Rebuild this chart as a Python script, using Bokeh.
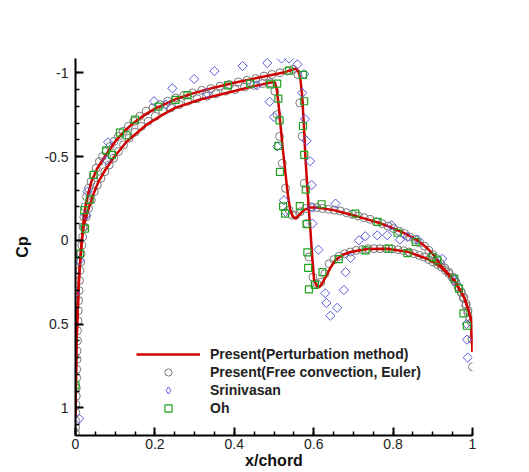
import numpy as np
from bokeh.plotting import figure
from bokeh.models import Range1d, FixedTicker, Legend, LegendItem
from bokeh.embed import file_html
from bokeh.resources import INLINE

# ---------------- data ----------------
x_ticks = [0, 0.2, 0.4, 0.6, 0.8, 1]
x_tick_labels = ["0", "0.2", "0.4", "0.6", "0.8", "1"]
y_ticks = [-1, -0.5, 0, 0.5, 1]
y_tick_labels = ["-1", "-0.5", "0", "0.5", "1"]

# Present (Perturbation method) - red line, surface A (strong shock)
pert_a_x = [0.0, 0.001, 0.002, 0.003, 0.005, 0.007, 0.009, 0.012, 0.015, 0.018,
            0.021, 0.025, 0.031, 0.040, 0.055, 0.074, 0.100, 0.125, 0.146, 0.175,
            0.204, 0.255, 0.300, 0.339, 0.400, 0.450, 0.500, 0.530, 0.548, 0.556,
            0.563, 0.567, 0.571, 0.575, 0.579, 0.583, 0.587, 0.592, 0.596, 0.601,
            0.607, 0.614, 0.622, 0.630, 0.643, 0.656, 0.675, 0.693, 0.735, 0.785,
            0.836, 0.886, 0.920, 0.954, 0.979, 0.987, 0.996, 1.0]
pert_a_cp = [1.06, 0.85, 0.70, 0.58, 0.45, 0.33, 0.22, 0.12, 0.03, -0.05,
             -0.13, -0.20, -0.27, -0.35, -0.43, -0.50, -0.59, -0.655, -0.70, -0.75,
             -0.79, -0.845, -0.88, -0.905, -0.94, -0.965, -0.99, -1.005, -1.02, -1.025,
             -1.00, -0.95, -0.86, -0.70, -0.50, -0.35, -0.21, -0.05, 0.09, 0.239,
             0.27, 0.281, 0.255, 0.219, 0.16, 0.115, 0.085, 0.07, 0.052, 0.05,
             0.068, 0.11, 0.158, 0.24, 0.34, 0.398, 0.467, 0.667]

# Present (Perturbation method) - red line, surface B (weak shock)
pert_b_x = [0.0, 0.001, 0.002, 0.003, 0.005, 0.007, 0.009, 0.012, 0.015, 0.018,
            0.022, 0.029, 0.036, 0.046, 0.057, 0.075, 0.095, 0.129, 0.179, 0.220,
            0.251, 0.314, 0.398, 0.450, 0.490, 0.502, 0.507, 0.512, 0.516, 0.522,
            0.529, 0.535, 0.541, 0.548, 0.555, 0.563, 0.575, 0.590, 0.610, 0.650,
            0.690, 0.735, 0.770, 0.802, 0.835, 0.861, 0.885, 0.903, 0.920, 0.954,
            0.979, 0.987, 0.996, 1.0]
pert_b_cp = [1.06, 0.85, 0.70, 0.58, 0.45, 0.33, 0.22, 0.12, 0.03, -0.05,
             -0.10, -0.16, -0.21, -0.28, -0.345, -0.42, -0.49, -0.59, -0.69, -0.75,
             -0.79, -0.84, -0.89, -0.92, -0.94, -0.945, -0.90, -0.80, -0.697, -0.55,
             -0.398, -0.27, -0.18, -0.14, -0.13, -0.15, -0.18, -0.195, -0.195, -0.18,
             -0.155, -0.125, -0.10, -0.07, -0.035, 0.0, 0.045, 0.09, 0.15, 0.24,
             0.34, 0.398, 0.467, 0.667]

# Present (Free convection, Euler) - grey circles
euler_le_x = [0.000, 0.000, 0.001, 0.001, 0.001, 0.002, 0.002, 0.003, 0.003, 0.004,
              0.004, 0.005, 0.005, 0.006, 0.007, 0.008, 0.009, 0.010, 0.011, 0.013,
              0.014, 0.016, 0.018]
euler_le_cp = [1.15, 1.12, 1.08, 1.03, 0.98, 0.93, 0.88, 0.82, 0.77, 0.71,
               0.66, 0.60, 0.54, 0.48, 0.42, 0.36, 0.30, 0.24, 0.18, 0.13,
               0.08, 0.03, -0.02]
euler_a_x = [0.019, 0.021, 0.024, 0.028, 0.033, 0.039, 0.045, 0.052, 0.060, 0.068,
             0.077, 0.087, 0.097, 0.108, 0.120, 0.133, 0.147, 0.162, 0.178, 0.195,
             0.213, 0.232, 0.252, 0.273, 0.295, 0.318, 0.341, 0.364, 0.387, 0.410,
             0.432, 0.454, 0.475, 0.495, 0.515, 0.533, 0.548, 0.560, 0.565, 0.571,
             0.576, 0.583, 0.588, 0.598, 0.608, 0.618, 0.628, 0.639, 0.651, 0.664,
             0.678, 0.692, 0.707, 0.722, 0.737, 0.752, 0.767, 0.782, 0.797, 0.812,
             0.826, 0.840, 0.853, 0.866, 0.878, 0.890, 0.901, 0.912, 0.922, 0.932,
             0.941, 0.950, 0.958, 0.965, 0.972, 0.978, 0.984, 0.989, 0.993, 0.998,
             0.999, 1.000]
euler_a_cp = [-0.08, -0.14, -0.20, -0.26, -0.31, -0.35, -0.39, -0.43, -0.47, -0.50,
              -0.53, -0.56, -0.59, -0.62, -0.65, -0.68, -0.71, -0.74, -0.77, -0.79,
              -0.81, -0.83, -0.85, -0.865, -0.88, -0.895, -0.905, -0.92, -0.93, -0.945,
              -0.955, -0.965, -0.98, -0.99, -1.00, -1.01, -1.02, -0.99, -0.82, -0.62,
              -0.34, -0.10, 0.10, 0.22, 0.26, 0.25, 0.20, 0.14, 0.115, 0.095,
              0.08, 0.07, 0.06, 0.055, 0.05, 0.05, 0.05, 0.05, 0.052, 0.056,
              0.062, 0.07, 0.08, 0.09, 0.10, 0.115, 0.13, 0.145, 0.16, 0.18,
              0.20, 0.22, 0.25, 0.28, 0.31, 0.34, 0.38, 0.42, 0.47, 0.49,
              0.59, 0.755]
euler_b_x = [0.022, 0.027, 0.033, 0.040, 0.047, 0.055, 0.064, 0.074, 0.085, 0.096,
             0.108, 0.121, 0.135, 0.150, 0.166, 0.183, 0.201, 0.220, 0.240, 0.261,
             0.283, 0.306, 0.330, 0.354, 0.378, 0.402, 0.426, 0.449, 0.471, 0.490,
             0.502, 0.508, 0.514, 0.521, 0.529, 0.538, 0.546, 0.554, 0.566, 0.580,
             0.594, 0.608, 0.622, 0.637, 0.652, 0.667, 0.682, 0.697, 0.712, 0.727,
             0.742, 0.757, 0.772, 0.787, 0.801, 0.815, 0.829, 0.842, 0.855, 0.867,
             0.879, 0.890, 0.900, 0.910, 0.920, 0.930, 0.940, 0.949, 0.957, 0.964,
             0.971, 0.977, 0.983, 0.988]
euler_b_cp = [-0.08, -0.14, -0.19, -0.24, -0.29, -0.33, -0.37, -0.41, -0.45, -0.49,
              -0.53, -0.57, -0.61, -0.645, -0.68, -0.71, -0.74, -0.77, -0.79, -0.81,
              -0.83, -0.845, -0.86, -0.875, -0.89, -0.90, -0.915, -0.925, -0.935, -0.94,
              -0.89, -0.75, -0.62, -0.46, -0.31, -0.18, -0.15, -0.15, -0.17, -0.19,
              -0.20, -0.195, -0.19, -0.185, -0.18, -0.175, -0.165, -0.155, -0.145, -0.135,
              -0.125, -0.11, -0.10, -0.085, -0.07, -0.055, -0.04, -0.02, -0.005, 0.015,
              0.035, 0.06, 0.085, 0.11, 0.14, 0.165, 0.19, 0.22, 0.25, 0.28,
              0.31, 0.345, 0.39, 0.43]

# Srinivasan - blue diamonds
srini_x = [0.000, 0.009, 0.010, 0.027, 0.030, 0.078, 0.082, 0.198, 0.228, 0.244,
           0.299, 0.331, 0.350, 0.421, 0.457, 0.483, 0.489, 0.500, 0.508, 0.519,
           0.538, 0.559, 0.576, 0.571, 0.578, 0.582, 0.591, 0.595, 0.597, 0.525,
           0.529, 0.597, 0.612, 0.629, 0.632, 0.642, 0.659, 0.676, 0.680, 0.693,
           0.655, 0.714, 0.730, 0.760, 0.785, 0.796, 0.817, 0.836, 0.861, 0.924,
           0.954, 0.985, 0.986, 0.988]
srini_cp = [0.315, 1.065, 0.12, -0.15, -0.29, -0.478, -0.585, -0.83, -0.81, -0.907,
            -0.963, -0.878, -1.01, -1.04, -0.925, -1.058, -0.827, -0.736, -0.56, -1.085,
            -1.085, -1.05, -0.992, -0.88, -0.724, -0.594, -0.472, -0.33, -0.195, -0.239,
            -0.169, -0.10, 0.056, 0.316, 0.374, 0.45, 0.403, 0.297, 0.19, 0.105,
            -0.219, 0.0, -0.024, -0.03, -0.03, -0.09, -0.004, -0.02, -0.005, 0.11,
            0.239, 0.50, 0.593, 0.70]

# Oh - green squares
oh_x = [0.000, 0.011, 0.024, 0.022, 0.036, 0.046, 0.077, 0.092, 0.112, 0.129,
        0.150, 0.209, 0.252, 0.282, 0.384, 0.440, 0.491, 0.508, 0.511, 0.514,
        0.511, 0.515, 0.523, 0.528, 0.538, 0.573, 0.576, 0.573, 0.576, 0.580,
        0.582, 0.584, 0.586, 0.588, 0.603, 0.622, 0.565, 0.620, 0.663, 0.731,
        0.789, 0.836, 0.705, 0.761, 0.811, 0.857, 0.899, 0.912, 0.954, 0.966,
        0.977, 0.986]
oh_cp = [0.866, 0.08, -0.07, -0.18, -0.243, -0.39, -0.537, -0.51, -0.643, -0.627,
         -0.72, -0.798, -0.838, -0.866, -0.925, -0.935, -0.93, -0.935, -0.846, -0.716,
         -0.563, -0.408, -0.203, -0.159, -1.013, -0.987, -0.83, -0.682, -0.51, -0.303,
         -0.096, 0.072, 0.165, 0.293, 0.266, 0.19, -0.204, -0.215, 0.112, 0.06,
         0.05, 0.076, -0.159, -0.11, -0.045, 0.01, 0.10, 0.12, 0.229, 0.288,
         0.436, 0.51]

labels = ["Present(Perturbation method)", "Present(Free convection, Euler)",
          "Srinivasan", "Oh"]

# ---------------- figure ----------------
FONT = "Liberation Sans"
BLUE = "#5a5ae0"
p = figure(width=529, height=472, output_backend="svg", toolbar_location=None,
           x_range=Range1d(0, 1), y_range=Range1d(1.165, -1.085),
           min_border_left=75, min_border_right=57, min_border_top=58,
           min_border_bottom=37, outline_line_color=None,
           background_fill_color="white", border_fill_color="white")
p.xgrid.visible = False
p.ygrid.visible = False

euler_x = euler_le_x + euler_a_x + euler_b_x
euler_cp = euler_le_cp + euler_a_cp + euler_b_cp

r_euler = p.scatter(euler_x, euler_cp, marker="circle", size=8,
                    fill_color=None, line_color="#7a7a7a", line_width=1)
r_pa = p.line(pert_a_x, pert_a_cp, line_color="#d10000", line_width=2.5)
r_pb = p.line(pert_b_x, pert_b_cp, line_color="#d10000", line_width=2.5)
r_sri = p.scatter(srini_x, srini_cp, marker="square", angle=np.pi / 4, size=6.5,
                  fill_color=None, line_color=BLUE, line_width=1)
# hidden twin of the Srinivasan series, used only for its (unrotated) legend sample
r_sri_leg = p.scatter(srini_x, srini_cp, marker="diamond", size=11,
                      fill_color=None, line_color=BLUE, line_width=1, visible=False)
r_oh = p.scatter(oh_x, oh_cp, marker="square", size=7,
                 fill_color=None, line_color="#1fa21f", line_width=1.2)

# axes
for ax in (p.xaxis[0], p.yaxis[0]):
    ax.axis_line_width = 2
    ax.axis_line_color = "black"
    ax.major_tick_in = 8
    ax.major_tick_out = 0
    ax.minor_tick_in = 4
    ax.minor_tick_out = 0
    ax.major_tick_line_width = 2
    ax.minor_tick_line_width = 1.5
    ax.major_label_text_font = FONT
    ax.major_label_text_font_size = "14px"
    ax.major_label_text_color = "#222222"
    ax.axis_label_text_font = FONT
    ax.axis_label_text_font_style = "bold"
    ax.axis_label_text_font_size = "16px"
    ax.axis_label_text_color = "#111111"

p.xaxis.ticker = FixedTicker(ticks=x_ticks,
                             minor_ticks=list(np.round(np.arange(0, 1.0001, 0.05), 2)))
p.yaxis.ticker = FixedTicker(ticks=y_ticks,
                             minor_ticks=list(np.round(np.arange(-1.0, 1.1001, 0.1), 2)))
p.xaxis.major_label_overrides = {float(t): l for t, l in zip(x_ticks, x_tick_labels)}
p.yaxis.major_label_overrides = {float(t): l for t, l in zip(y_ticks, y_tick_labels)}
p.xaxis.axis_label = "x/chord"
p.yaxis.axis_label = "Cp"
p.xaxis.major_label_standoff = 3
p.xaxis.axis_label_standoff = 0
p.yaxis.major_label_standoff = 7
p.yaxis.axis_label_standoff = 10

legend = Legend(items=[LegendItem(label=labels[0], renderers=[r_pa]),
                       LegendItem(label=labels[1], renderers=[r_euler]),
                       LegendItem(label=labels[2], renderers=[r_sri_leg]),
                       LegendItem(label=labels[3], renderers=[r_oh])],
                location=(61, 18), orientation="vertical",
                glyph_width=64, glyph_height=18, label_height=18, spacing=0,
                padding=0, margin=0, label_standoff=10, click_policy="none",
                border_line_color=None, background_fill_alpha=0,
                label_text_font=FONT, label_text_font_style="bold",
                label_text_font_size="14px", label_text_color="#222222")
p.add_layout(legend)

open("out.html", "w").write(file_html(p, INLINE))
